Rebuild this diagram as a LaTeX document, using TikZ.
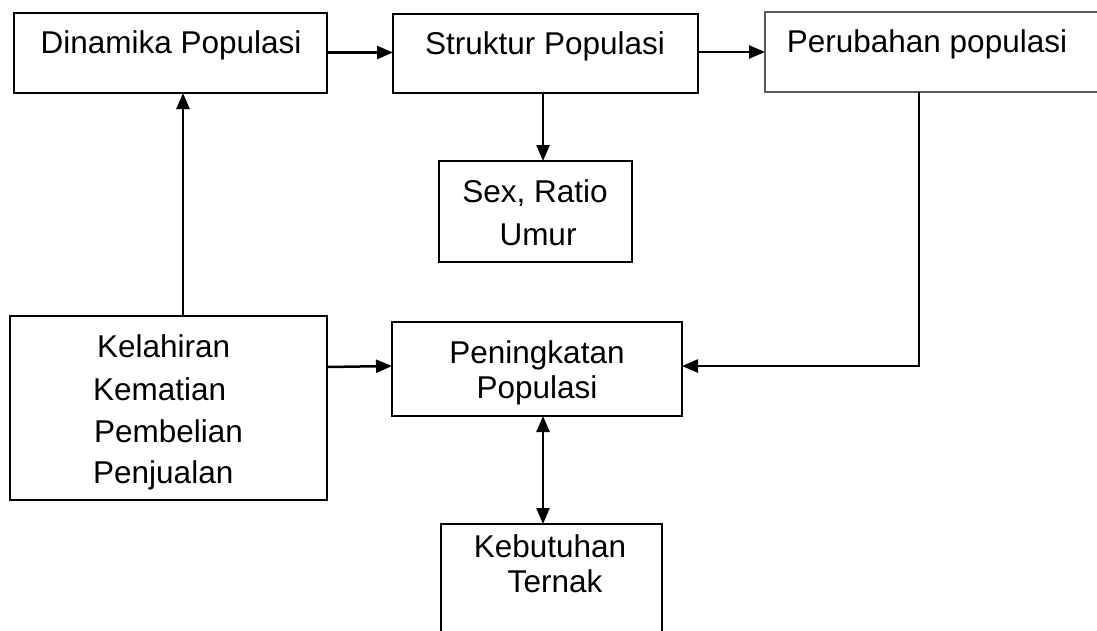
\documentclass[tikz,border=0pt]{standalone}
\usepackage{fontspec}
\setmainfont{Liberation Sans}
\usetikzlibrary{arrows.meta}
\tikzset{
  box/.style={draw=black, line width=2.2pt, inner sep=0pt, outer sep=0pt, fill=none},
  thinbox/.style={draw=black!65, line width=1.6pt, inner sep=0pt, outer sep=0pt},
  txt/.style={anchor=base, inner sep=0pt, font=\fontsize{31.5}{38}\selectfont},
  arr/.style={line width=2.5pt, -{Triangle[length=16pt,width=13pt]}},
  darr/.style={line width=2.5pt, {Triangle[length=16pt,width=13pt]}-{Triangle[length=16pt,width=13pt]}}
}
\begin{document}
\begin{tikzpicture}[x=1pt,y=-1pt]
\clip (0,0) rectangle (1097,630);
\fill[white] (0,0) rectangle (1097,630);
% boxes
\node[box, minimum width=313pt, minimum height=80pt] (dp) at (170.5,53) {};
\node[box, minimum width=305pt, minimum height=79pt] (sp) at (545.5,53.5) {};
\node[thinbox, minimum width=345pt, minimum height=80pt] (pp) at (937.5,52) {};
\node[box, minimum width=193pt, minimum height=101pt] (sex) at (535.5,211.5) {};
\node[box, minimum width=317pt, minimum height=184pt] (kel) at (168.5,408) {};
\node[box, minimum width=290pt, minimum height=94pt] (pen) at (537,369) {};
\node[box, line width=1.9pt, minimum width=221pt, minimum height=136pt] (keb) at (551.5,592) {};
% texts
\node[txt] (tdp) at (171,53) {Dinamika Populasi};
\node[txt] (tsp) at (545,54) {Struktur Populasi};
\node[txt] (tpp) at (927,52) {Perubahan populasi};
\node[txt] (tsex1) at (535,202) {Sex, Ratio};
\node[txt] (tsex2) at (538,245) {Umur};
\node[txt, anchor=base west] (tk1) at (97,357) {Kelahiran};
\node[txt, anchor=base west] (tk2) at (93,400) {Kematian};
\node[txt, anchor=base west] (tk3) at (94,442) {Pembelian};
\node[txt, anchor=base west] (tk4) at (93,483) {Penjualan};
\node[txt] (tpen1) at (537,363) {Peningkatan};
\node[txt] (tpen2) at (537,398) {Populasi};
\node[txt] (tkeb1) at (550,557) {Kebutuhan};
\node[txt] (tkeb2) at (555,592) {Ternak};
% connectors
\draw[arr] (dp.east |- 0,52.5) -- (sp.west |- 0,52.5);
\draw[arr] (sp.east |- 0,52) -- (pp.west |- 0,52);
\draw[arr] (sp.south -| 543,0) -- (sex.north -| 543,0);
\draw[arr] (kel.north -| 183,0) -- (dp.south -| 183,0);
\draw[arr] (kel.east |- 0,367) -- (pen.west |- 0,366);
\draw[arr] (pp.south -| 919,0) |- (pen.east |- 0,366);
\draw[darr] (pen.south -| 543,0) -- (keb.north -| 543,0);
\end{tikzpicture}
\end{document}
